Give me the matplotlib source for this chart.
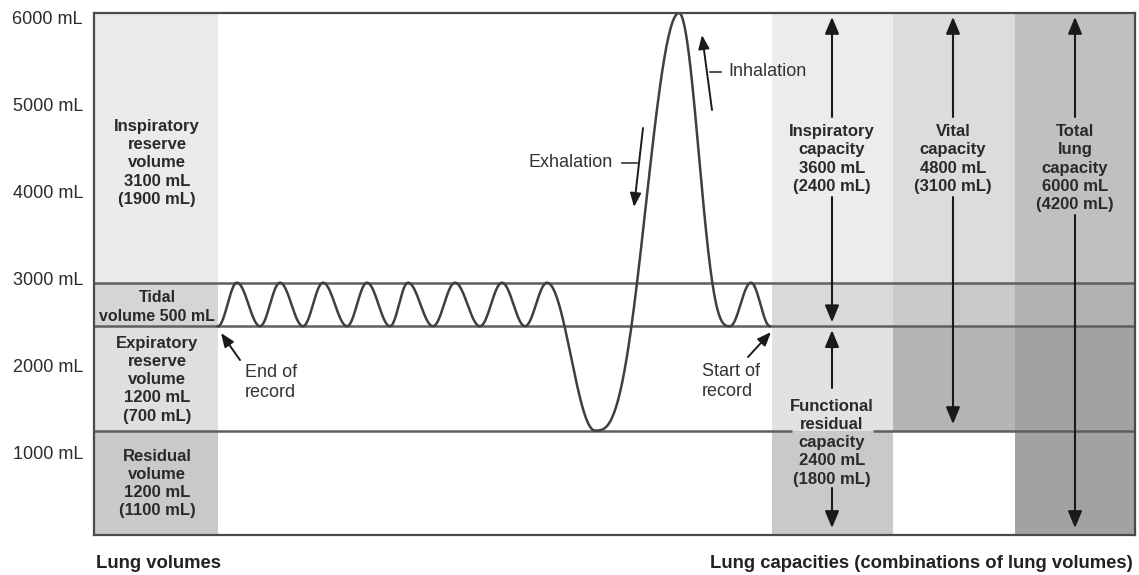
import numpy as np
import matplotlib
matplotlib.use("Agg")
import matplotlib.pyplot as plt
from matplotlib.transforms import ScaledTranslation

plt.rcParams['font.family'] = ['Liberation Sans', 'DejaVu Sans']

# ---------------- data ----------------
level_ml = [0, 1200, 2400, 2900, 6000]          # RV top, ERV top, TV top, TLC
ytick_ml = [1000, 2000, 3000, 4000, 5000, 6000]
ytick_labels = ['1000 mL', '2000 mL', '3000 mL', '4000 mL', '5000 mL', '6000 mL']

volume_names = ['Residual\nvolume\n1200 mL\n(1100 mL)',
                'Expiratory\nreserve\nvolume\n1200 mL\n(700 mL)',
                'Tidal\nvolume 500 mL',
                'Inspiratory\nreserve\nvolume\n3100 mL\n(1900 mL)']
volume_label_ml = [592, 1787, 2620, 4276]

capacity_names = ['Inspiratory\ncapacity\n3600 mL\n(2400 mL)',
                  'Vital\ncapacity\n4800 mL\n(3100 mL)',
                  'Total\nlung\ncapacity\n6000 mL\n(4200 mL)']
capacity_label_ml = [4322, 4322, 4218]
capacity_span = [(2400, 6000), (1200, 6000), (0, 6000)]

frc_name = 'Functional\nresidual\ncapacity\n2400 mL\n(1800 mL)'
frc_label_ml = 1062
frc_span = (0, 2400)

# spirometer trace turning points (time units = horizontal position, volume in mL)
trace_t = [124, 143, 166, 186, 209, 229, 253, 273, 296, 314, 339, 361, 386,
           408, 431, 453, 501, 585, 636, 657, 676]
trace_ml = [2400, 2900, 2400, 2900, 2400, 2900, 2400, 2900, 2400, 2900, 2400,
            2900, 2400, 2900, 2400, 2900, 1200, 6000, 2400, 2900, 2400]

# ---------------- layout ----------------
W, H = 1139, 575
fig = plt.figure(figsize=(W / 100, H / 100), dpi=100)
ax = fig.add_axes([94 / W, 40 / H, 1041 / W, 522 / H])
XMAX = 1041
ax.set_xlim(0, XMAX)
ax.set_ylim(0, 6000)

col_edges = [0, 124, 678, 799, 921, XMAX]
# colours per column (rows: RV, ERV, TV, IRV)
col_colors = [
    ['#c9c9c9', '#dfdfdf', '#d5d5d5', '#ebebeb'],
    ['#ffffff', '#ffffff', '#ffffff', '#ffffff'],
    ['#c9c9c9', '#e2e2e2', '#d9d9d9', '#ececec'],
    ['#ffffff', '#b5b5b5', '#cacaca', '#dcdcdc'],
    ['#a2a2a2', '#a2a2a2', '#b2b2b2', '#c0c0c0'],
]
for c in range(len(col_edges) - 1):
    for r in range(len(level_ml) - 1):
        ax.fill_between([col_edges[c], col_edges[c + 1]], level_ml[r], level_ml[r + 1],
                        color=col_colors[c][r], lw=0, zorder=0)

line_kw = dict(color='#5f5f5f', lw=1.8, zorder=2, solid_capstyle='butt')
ax.plot([0, XMAX], [level_ml[3]] * 2, **line_kw)
ax.plot([0, XMAX], [level_ml[2]] * 2, **line_kw)
ax.plot([0, 698], [level_ml[1]] * 2, **line_kw)
ax.plot([779, XMAX], [level_ml[1]] * 2, **line_kw)

for s in ax.spines.values():
    s.set_color('#4a4a4a')
    s.set_linewidth(1.6)
    s.set_zorder(5)

# trace: smooth transitions between turning points; the full inspiration
# peak is drawn sharper (steeper near the top) as in the original drawing
top = max(trace_ml)
xs, ys = [], []
for i in range(len(trace_t) - 1):
    t = np.linspace(0, 1, 80, endpoint=False)
    a, b = trace_ml[i], trace_ml[i + 1]
    f = (1 - np.cos(np.pi * t)) / 2
    if top in (a, b):
        lo, hi = min(a, b), max(a, b)
        g = f if b == hi else 1 - f           # fraction measured from low end
        v = lo + (hi - lo) * g ** 1.5
    else:
        v = a + (b - a) * f
    xs.append(trace_t[i] + (trace_t[i + 1] - trace_t[i]) * t)
    ys.append(v)
xs.append([trace_t[-1]]); ys.append([trace_ml[-1]])
ax.plot(np.concatenate(xs), np.concatenate(ys), color='#3f3f3f', lw=1.8, zorder=3)

# ticks
ax.set_xticks([])
ax.set_yticks(ytick_ml)
ax.set_yticklabels(ytick_labels, fontsize=13, color='#2b2b2b')
ax.tick_params(axis='y', length=0, pad=8)
for lab in ax.get_yticklabels():
    lab.set_transform(lab.get_transform() + ScaledTranslation(0, -3 / 72, fig.dpi_scale_trans))

bold_kw = dict(ha='center', va='center', fontweight='bold',
               color='#2a2a2a', linespacing=1.27, zorder=4)
left_cx = (col_edges[0] + col_edges[1]) / 2
for name, y in zip(volume_names, volume_label_ml):
    fs = 11.5 if name.startswith('Tidal') else 12
    ax.text(left_cx + 1, y, name, fontsize=fs, **bold_kw)

cap_x = [738, 859, 981]
for name, y, x in zip(capacity_names, capacity_label_ml, cap_x):
    ax.text(x, y, name, fontsize=12, **bold_kw)
ax.text(cap_x[0], frc_label_ml, frc_name, fontsize=12, **bold_kw)

big = dict(arrowstyle='-|>,head_length=0.6,head_width=0.25', color='#1a1a1a',
           lw=1.5, mutation_scale=17, shrinkA=0, shrinkB=0)
def arr(x0, y0, x1, y1, props=big):
    ax.annotate('', xy=(x1, y1), xytext=(x0, y0), arrowprops=props, zorder=4)

# capacity arrows (tail -> tip)
arr(cap_x[0], 4805, cap_x[0], 5955)
arr(cap_x[0], 3885, cap_x[0], capacity_span[0][0] + 45)
arr(cap_x[1], 4805, cap_x[1], 5955)
arr(cap_x[1], 3885, cap_x[1], capacity_span[1][0] + 75)
arr(cap_x[2], 4805, cap_x[2], 5955)
arr(cap_x[2], 3678, cap_x[2], capacity_span[2][0] + 80)
arr(cap_x[0], 1690, cap_x[0], frc_span[1] - 45)
arr(cap_x[0], 540, cap_x[0], frc_span[0] + 80)

small = dict(arrowstyle='-|>,head_length=0.55,head_width=0.22', color='#1a1a1a',
             lw=1.4, mutation_scale=15, shrinkA=0, shrinkB=0)
reg_kw = dict(fontsize=13, color='#333333', zorder=4)
# Inhalation
arr(618, 4885, 608, 5747, small)
ax.plot([616, 627], [5322, 5322], color='#333333', lw=1.2, zorder=4)
ax.text(634, 5322, 'Inhalation', ha='left', va='center', **reg_kw)
# Exhalation
arr(549, 4678, 540, 3770, small)
ax.plot([528, 543], [4276, 4276], color='#333333', lw=1.2, zorder=4)
ax.text(519, 4276, 'Exhalation', ha='right', va='center', **reg_kw)
# End / start of record
arr(146, 2011, 127, 2322, small)
ax.text(151, 1750, 'End of\nrecord', ha='left', va='center', linespacing=1.25, **reg_kw)
arr(654, 2046, 677, 2333, small)
ax.text(608, 1765, 'Start of\nrecord', ha='left', va='center', linespacing=1.25, **reg_kw)

fig.text(96 / W, 1 - 563 / H, 'Lung volumes', ha='left', va='center',
         fontsize=13.3, fontweight='bold', color='#222222')
fig.text(1133 / W, 1 - 563 / H, 'Lung capacities (combinations of lung volumes)',
         ha='right', va='center', fontsize=13.3, fontweight='bold', color='#222222')

fig.savefig('out.png', dpi=100)
